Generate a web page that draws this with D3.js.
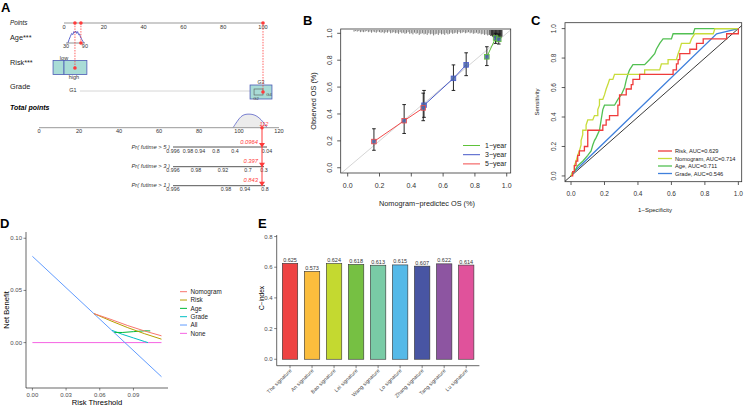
<!DOCTYPE html>
<html><head><meta charset="utf-8">
<script src="https://cdn.jsdelivr.net/npm/d3@7"></script>
<style>body{margin:0;background:#fff}svg{display:block;font-family:"Liberation Sans",Arial,sans-serif}</style>
</head><body><svg width="746" height="407"></svg>
<script>
// ---------------- DATA ----------------
// Panel A (nomogram)
const pointsTicks = [0, 20, 40, 60, 80, 100];
const totalTicks = [0, 20, 40, 60, 80, 100, 120];
const ageTicks = [30, 90];
const ageDensAge = [36, 40, 44, 48, 52, 55, 58, 61, 64, 67, 70, 73, 76, 80, 84, 88];
const ageDensH = [0, 0.3, 0.55, 0.8, 0.7, 0.95, 0.85, 1, 0.8, 0.95, 0.7, 0.75, 0.5, 0.3, 0.12, 0];
const riskLevels = ["low", "high"];
const riskBoxPts = [[-5.5, 0], [0, 11.5]];
const gradeLevels = ["G1", "G3"];
const patientPts = { age: 8.5, risk: 5.5, grade: 100, total: 111.5 };
const totalDensPts = [97, 99, 101, 103, 105, 107, 109, 111, 113, 114];
const totalDensH = [0, 0.45, 0.85, 0.98, 1, 0.97, 0.85, 0.6, 0.25, 0];
const prLabels = ["Pr( futime > 5 )", "Pr( futime > 3 )", "Pr( futime > 1 )"];
const prTickLabels = [["0.996", "0.98", "0.94", "0.8", "0.4", "0.04"],
                      ["0.996", "0.98", "0.92", "0.7", "0.3"],
                      ["0.996", "0.98", "0.94", "0.8"]];
const prTickPts = [[67, 74.5, 80.5, 88.5, 98, 114],
                   [67, 78.5, 92, 104.5, 112.5],
                   [67, 93.5, 103, 113]];
const prValues = ["0.0964", "0.397", "0.843"];

// Panel B (calibration)
const calYears = ["1\u2212year", "3\u2212year", "5\u2212year"];
const calPred = [[0.875, 0.93, 0.95], [0.48, 0.665, 0.745], [0.165, 0.355, 0.475]];
const calObs  = [[0.825, 0.965, 0.955], [0.465, 0.665, 0.765], [0.195, 0.35, 0.445]];
const calLo   = [[0.76, 0.925, 0.92], [0.375, 0.575, 0.685], [0.13, 0.255, 0.35]];
const calHi   = [[0.9, 1.0, 0.995], [0.575, 0.765, 0.855], [0.29, 0.47, 0.555]];
const calTicks = [0, 0.2, 0.4, 0.6, 0.8, 1.0];
const rugB = [[0.04,2],[0.05,1],[0.06,2],[0.07,1],[0.08,3],[0.09,2],[0.10,3],[0.11,2],[0.12,1],[0.13,3],[0.14,2],[0.15,4],[0.16,2],[0.17,3],[0.18,4],[0.19,2],[0.20,3],[0.21,4],[0.22,3],[0.23,5],[0.24,3],[0.25,4],[0.26,2],[0.27,5],[0.28,4],[0.29,3],[0.30,5],[0.31,4],[0.32,6],[0.33,3],[0.34,5],[0.35,4],[0.36,6],[0.37,5],[0.38,3],[0.39,6],[0.40,5],[0.41,7],[0.42,4],[0.43,6],[0.44,5],[0.45,8],[0.46,6],[0.47,5],[0.48,7],[0.49,6],[0.50,8],[0.51,5],[0.52,7],[0.53,6],[0.54,9],[0.55,7],[0.56,6],[0.57,8],[0.58,5],[0.59,7],[0.60,6],[0.61,8],[0.62,5],[0.63,7],[0.64,6],[0.65,4],[0.66,6],[0.67,5],[0.68,4],[0.69,6],[0.70,3],[0.71,5],[0.72,4],[0.73,3],[0.74,5],[0.75,4],[0.76,3],[0.77,5],[0.78,4],[0.79,6],[0.80,5],[0.81,4],[0.82,6],[0.83,5],[0.84,7],[0.85,6],[0.86,8],[0.87,7],[0.88,9],[0.89,8],[0.90,10],[0.905,9],[0.91,11],[0.915,12],[0.92,13],[0.925,14],[0.93,15],[0.935,16],[0.94,17],[0.945,17],[0.95,18],[0.955,16],[0.96,15],[0.965,13],[0.97,11]];

// Panel C (ROC)
const rocNames = ["Risk, AUC=0.629", "Nomogram, AUC=0.714", "Age, AUC=0.711", "Grade, AUC=0.546"];
const rocRisk = [[0,0],[0.01,0],[0.01,0.03],[0.02,0.03],[0.02,0.07],[0.03,0.07],[0.03,0.1],[0.04,0.1],[0.04,0.14],[0.05,0.14],[0.05,0.17],[0.08,0.17],[0.08,0.2],[0.1,0.2],[0.1,0.31],[0.19,0.31],[0.19,0.345],[0.21,0.345],[0.21,0.38],[0.23,0.38],[0.23,0.41],[0.28,0.41],[0.28,0.48],[0.29,0.48],[0.29,0.55],[0.33,0.55],[0.33,0.59],[0.36,0.59],[0.36,0.62],[0.37,0.62],[0.37,0.655],[0.41,0.655],[0.41,0.69],[0.61,0.69],[0.61,0.72],[0.63,0.72],[0.63,0.76],[0.64,0.76],[0.64,0.79],[0.65,0.79],[0.65,0.83],[0.71,0.83],[0.71,0.86],[0.75,0.86],[0.75,0.9],[0.79,0.9],[0.79,0.93],[0.93,0.93],[0.93,0.965],[1,0.965],[1,1]];
const rocNomo = [[0,0],[0.01,0.03],[0.02,0.03],[0.02,0.07],[0.03,0.1],[0.04,0.14],[0.05,0.17],[0.06,0.21],[0.06,0.24],[0.07,0.28],[0.07,0.31],[0.09,0.31],[0.09,0.345],[0.1,0.38],[0.13,0.38],[0.14,0.41],[0.16,0.41],[0.16,0.45],[0.17,0.48],[0.17,0.52],[0.19,0.52],[0.2,0.55],[0.21,0.59],[0.22,0.62],[0.23,0.655],[0.25,0.655],[0.26,0.69],[0.44,0.69],[0.44,0.72],[0.53,0.72],[0.54,0.76],[0.58,0.76],[0.58,0.79],[0.63,0.79],[0.64,0.83],[0.65,0.86],[0.66,0.9],[0.71,0.9],[0.72,0.93],[0.74,0.965],[0.85,0.965],[0.86,1],[1,1]];
const rocAge = [[0,0],[0.01,0.03],[0.02,0.03],[0.04,0.07],[0.07,0.1],[0.1,0.14],[0.12,0.17],[0.13,0.21],[0.14,0.24],[0.15,0.26],[0.17,0.31],[0.18,0.38],[0.19,0.45],[0.2,0.48],[0.26,0.48],[0.28,0.52],[0.3,0.55],[0.32,0.6],[0.33,0.65],[0.34,0.69],[0.35,0.72],[0.37,0.755],[0.44,0.755],[0.47,0.79],[0.5,0.83],[0.51,0.86],[0.53,0.9],[0.55,0.93],[0.6,0.93],[0.61,0.965],[0.73,0.965],[0.74,1],[1,1]];
const rocGrade = [[0,0],[0.02,0.03],[0.87,0.965],[1,1]];
const rocTicks = [0, 0.2, 0.4, 0.6, 0.8, 1.0];

// Panel D (decision curve)
const dcaNames = ["Nomogram", "Risk", "Age", "Grade", "All", "None"];
const dcaX = [[0.0548, 0.07, 0.085, 0.1, 0.115],
              [0.0548, 0.07, 0.085, 0.1, 0.115],
              [0.073, 0.08, 0.09, 0.1, 0.105],
              [0.071, 0.08, 0.09, 0.1, 0.103],
              [0, 0.115],
              [0, 0.115]];
const dcaY = [[0.0278, 0.0222, 0.0163, 0.0111, 0.0065],
              [0.0278, 0.0208, 0.0143, 0.0085, 0.0033],
              [0.0098, 0.0097, 0.0105, 0.0113, 0.0112],
              [0.0117, 0.008, 0.0045, 0.001, 0.0],
              [0.0827, -0.0327],
              [0, 0]];
const dcaXTicks = [0, 0.03, 0.06, 0.09];
const dcaYTicks = [0, 0.05, 0.10];

// Panel E (C-index bars)
const sigNames = ["The signature", "An signature", "Bao signature", "Lei signature", "Wang signature", "Lo signature", "Zhang signature", "Tang signature", "Lu signature"];
const cindex = [0.625, 0.573, 0.624, 0.618, 0.613, 0.615, 0.607, 0.622, 0.614];
const cTicks = [0, 0.2, 0.4, 0.6, 0.8];

// ---------------- DRAWING ----------------
const svg = d3.select("svg");
function txt(g, x, y, s, o = {}) {
  const t = g.append("text").attr("x", x).attr("y", y).text(s)
    .attr("font-size", o.size || 7).attr("fill", o.fill || "#000")
    .attr("text-anchor", o.anchor || "start");
  if (o.italic) t.attr("font-style", "italic");
  if (o.bold) t.attr("font-weight", "bold");
  if (o.rotate !== undefined) t.attr("transform", `rotate(${o.rotate},${x},${y})`);
  return t;
}
function ln(g, x1, y1, x2, y2, c, w, dash) {
  const l = g.append("line").attr("x1", x1).attr("y1", y1).attr("x2", x2).attr("y2", y2)
    .attr("stroke", c).attr("stroke-width", w || 1);
  if (dash) l.attr("stroke-dasharray", dash);
  return l;
}
const RED = "#ff3b3b";

// ===== Panel A =====
const A = svg.append("g");
txt(A, 1, 12, "A", { size: 13, bold: true });
const xP = d3.scaleLinear().domain([0, 100]).range([64, 263]);
const xT = d3.scaleLinear().domain([0, 120]).range([39, 279]);
txt(A, 10, 24.5, "Points", { size: 6.3, italic: true, fill: "#222" });
txt(A, 10, 40, "Age***", { size: 7.3, fill: "#222" });
txt(A, 10, 65, "Risk***", { size: 7.3, fill: "#222" });
txt(A, 10, 89, "Grade", { size: 7.3, fill: "#222" });
txt(A, 10, 110, "Total points", { size: 7, bold: true, italic: true });

ln(A, xP(0), 23, xP(100), 23, "#999", 1);
pointsTicks.forEach(v => txt(A, xP(v), 28.5, v, { size: 5.6, anchor: "middle", fill: "#333" }));

// Age
const ageX = d3.scaleLinear().domain([30, 90]).range([xP(1), xP(10.5)]);
const ageH = d3.scaleLinear().domain([0, 1]).range([43, 31]);
A.append("path").datum(ageDensAge.map((a, i) => [a, ageDensH[i]]))
  .attr("d", d3.line().x(d => ageX(d[0])).y(d => ageH(d[1])))
  .attr("fill", "none").attr("stroke", "#4a55c8").attr("stroke-width", 0.9);
ln(A, ageX(30), 43, ageX(90), 43, "#777", 0.8);
ageTicks.forEach(v => txt(A, ageX(v), 47.5, v, { size: 5.5, anchor: "middle", fill: "#333" }));

// Risk
riskBoxPts.forEach(b => A.append("rect").attr("x", xP(b[0])).attr("y", 60.5)
  .attr("width", xP(b[1]) - xP(b[0])).attr("height", 14)
  .attr("fill", "#a9dcd6").attr("stroke", "#4b5bb5").attr("stroke-width", 0.8));
txt(A, xP(0), 59.5, riskLevels[0], { size: 5.5, anchor: "middle", fill: "#333" });
txt(A, xP(5), 79, riskLevels[1], { size: 5.5, anchor: "middle", fill: "#333" });

// Grade
ln(A, xP(8), 91, xP(93.5), 91, "#ccc", 0.8);
txt(A, xP(4.5), 91.5, gradeLevels[0], { size: 5.5, anchor: "middle", fill: "#333" });
A.append("rect").attr("x", xP(93.5)).attr("y", 85).attr("width", xP(104.5) - xP(93.5)).attr("height", 14)
  .attr("fill", "#a9dcd6").attr("stroke", "#4b5bb5").attr("stroke-width", 0.8);
txt(A, xP(99), 83.5, gradeLevels[1], { size: 5.2, anchor: "middle", fill: "#333" });
A.append("rect").attr("x", xP(95.5)).attr("y", 89).attr("width", xP(100) - xP(95.5)).attr("height", 6)
  .attr("fill", "none").attr("stroke", "#555").attr("stroke-width", 0.6);
txt(A, xP(103), 95.5, "G4", { size: 4.2, anchor: "middle", fill: "#444" });
txt(A, xP(96.5), 99.5, "G2", { size: 4.2, anchor: "middle", fill: "#444" });

// Total points
const tdH = d3.scaleLinear().domain([0, 1]).range([127.7, 114]);
A.append("path").datum(totalDensPts.map((p, i) => [p, totalDensH[i]]))
  .attr("d", d3.line().curve(d3.curveBasis).x(d => xT(d[0])).y(d => tdH(d[1])))
  .attr("fill", "#ececec").attr("stroke", "#5a63c8").attr("stroke-width", 0.8);
ln(A, xT(0), 127.7, xT(120), 127.7, "#999", 1);
totalTicks.forEach(v => txt(A, xT(v), 133, v, { size: 5.6, anchor: "middle", fill: "#333" }));

// Pr rows
const prY = [147, 166.7, 185.7];
prLabels.forEach((lab, r) => {
  const y = prY[r];
  txt(A, xT(prTickPts[r][0]) - 3, y + 1.5, lab, { size: 5.8, italic: true, anchor: "end", fill: "#333" });
  ln(A, xT(prTickPts[r][0]), y, xT(prTickPts[r][prTickPts[r].length - 1]), y, "#555", 1);
  prTickPts[r].forEach((p, i) => txt(A, xT(p), y + 5.5, prTickLabels[r][i], { size: 5.3, anchor: "middle", fill: "#333" }));
  txt(A, xT(patientPts.total) - 4, y - 3.5, prValues[r], { size: 5.8, italic: true, anchor: "end", fill: RED });
  A.append("path").attr("d", `M${xT(patientPts.total) - 3},${y - 4}L${xT(patientPts.total) + 3},${y - 4}L${xT(patientPts.total)},${y + 0.5}Z`).attr("fill", RED);
});
// patient path
const xa = xP(patientPts.age), xr = xP(patientPts.risk), xg = xP(patientPts.grade), xt = xT(patientPts.total);
ln(A, xr, 23, xr, 68, RED, 0.8, "1.5,1.2");
ln(A, xa, 23, xa, 43, RED, 0.8, "1.5,1.2");
ln(A, xg, 23, xg, 92, RED, 0.8, "1.5,1.2");
ln(A, xt, 127.7, xt, prY[2], RED, 1);
[[xr, 23], [xa, 23], [xg, 23], [xa, 43], [xr, 68], [xg, 92], [xt, 127.7]].forEach(p =>
  A.append("circle").attr("cx", p[0]).attr("cy", p[1]).attr("r", 1.8).attr("fill", RED));
txt(A, xt + 2, 126, "112", { size: 5.6, italic: true, anchor: "middle", fill: RED });

// ===== Panel B =====
const B = svg.append("g");
txt(B, 303, 25, "B", { size: 13, bold: true });
const xB = d3.scaleLinear().domain([-0.044, 1.025]).range([340.7, 510.7]);
const yB = d3.scaleLinear().domain([-0.039, 1.032]).range([173, 29]);
B.append("clipPath").attr("id", "clipB").append("rect").attr("x", 340.7).attr("y", 29).attr("width", 170).attr("height", 144);
B.append("line").attr("clip-path", "url(#clipB)")
  .attr("x1", xB(-0.05)).attr("y1", yB(-0.05)).attr("x2", xB(1.05)).attr("y2", yB(1.05))
  .attr("stroke", "#d0d0d0").attr("stroke-width", 0.9);
// rug
rugB.forEach(d => ln(B, xB(d[0]), 30, xB(d[0]), 30.5 + d[1] * 0.55, d[0] > 0.885 ? "#1a1a1a" : "#6f6f6f", 0.9));
const calColors = ["#5fc23a", "#4658c8", "#f24a4a"];
calYears.forEach((yr, k) => {
  const pts = calPred[k].map((p, i) => [p, calObs[k][i]]);
  B.append("path").datum(pts).attr("d", d3.line().x(d => xB(d[0])).y(d => yB(d[1])))
    .attr("fill", "none").attr("stroke", calColors[k]).attr("stroke-width", 1);
});
calYears.forEach((yr, k) => {
  calPred[k].forEach((p, i) => {
    const x = xB(p);
    ln(B, x, yB(calLo[k][i]), x, yB(calHi[k][i]), "#111", 0.9);
    ln(B, x - 1.8, yB(calLo[k][i]), x + 1.8, yB(calLo[k][i]), "#111", 0.9);
    ln(B, x - 1.8, yB(calHi[k][i]), x + 1.8, yB(calHi[k][i]), "#111", 0.9);
  });
});
calYears.forEach((yr, k) => {
  calPred[k].forEach((p, i) => {
    B.append("rect").attr("x", xB(p) - 2.3).attr("y", yB(calObs[k][i]) - 2.3).attr("width", 4.6).attr("height", 4.6)
      .attr("fill", "#4c68a8").attr("fill-opacity", 0.85).attr("stroke", calColors[k]).attr("stroke-width", 0.8);
  });
});
B.append("rect").attr("x", 340.7).attr("y", 29).attr("width", 170).attr("height", 144)
  .attr("fill", "none").attr("stroke", "#333").attr("stroke-width", 0.8);
calTicks.forEach(v => {
  ln(B, xB(v), 173, xB(v), 176.5, "#333", 0.8);
  txt(B, xB(v), 187.5, v.toFixed(1), { size: 7, anchor: "middle", fill: "#333" });
  ln(B, 340.7, yB(v), 337.2, yB(v), "#333", 0.8);
  txt(B, 332.5, yB(v), v.toFixed(1), { size: 7, anchor: "middle", fill: "#333", rotate: -90 });
});
txt(B, 427, 206, "Nomogram\u2212predictec OS (%)", { size: 7.3, anchor: "middle", fill: "#222" });
txt(B, 316, 101, "Observed OS (%)", { size: 7.3, anchor: "middle", fill: "#222", rotate: -90 });
calYears.forEach((yr, k) => {
  const y = 145.5 + k * 9.2;
  ln(B, 463, y, 480, y, calColors[k], 1);
  txt(B, 485, y + 2.5, yr, { size: 7, fill: "#222" });
});

// ===== Panel C =====
const C = svg.append("g");
txt(C, 531, 25, "C", { size: 13, bold: true });
const xC = d3.scaleLinear().domain([-0.036, 1.02]).range([565, 741.7]);
const yC = d3.scaleLinear().domain([-0.039, 1.04]).range([181.7, 22.7]);
ln(C, xC(-0.036), yC(-0.036), xC(1.02), yC(1.02), "#222", 0.9);
const rocColors = ["#ef3b3b", "#c8dc3a", "#52c052", "#3f80dc"];
const rocData = [rocRisk, rocNomo, rocAge, rocGrade];
[3, 2, 1, 0].forEach(k => {
  C.append("path").datum(rocData[k]).attr("d", d3.line().x(d => xC(d[0])).y(d => yC(d[1])))
    .attr("fill", "none").attr("stroke", rocColors[k]).attr("stroke-width", 1.3);
});
C.append("rect").attr("x", 565).attr("y", 22.7).attr("width", 176.7).attr("height", 159)
  .attr("fill", "none").attr("stroke", "#333").attr("stroke-width", 0.8);
rocTicks.forEach(v => {
  ln(C, xC(v), 181.7, xC(v), 185, "#333", 0.8);
  txt(C, xC(v), 195.5, v.toFixed(1), { size: 6.5, anchor: "middle", fill: "#333" });
  ln(C, 565, yC(v), 561.7, yC(v), "#333", 0.8);
  txt(C, 556, yC(v), v.toFixed(1), { size: 6.5, anchor: "middle", fill: "#333", rotate: -90 });
});
txt(C, 655, 211.5, "1\u2212Specificity", { size: 6, anchor: "middle", fill: "#222" });
txt(C, 539, 102, "Sensitivity", { size: 6, anchor: "middle", fill: "#222", rotate: -90 });
rocNames.forEach((nm, k) => {
  const y = 151 + k * 7.5;
  ln(C, 658, y, 672, y, rocColors[k], 1.3);
  txt(C, 675, y + 2, nm, { size: 5.7, fill: "#222" });
});

// ===== Panel D =====
const D = svg.append("g");
txt(D, 0, 228, "D", { size: 13, bold: true });
const xD = d3.scaleLinear().domain([-0.0057, 0.1208]).range([26, 168]);
const yD = d3.scaleLinear().domain([-0.0435, 0.106]).range([388, 232]);
const dcaColors = ["#F8766D", "#B79F00", "#00BA38", "#00BFC4", "#619CFF", "#F564E3"];
[5, 4, 3, 2, 1, 0].forEach(k => {
  D.append("path").datum(dcaX[k].map((x, i) => [x, dcaY[k][i]]))
    .attr("d", d3.line().x(d => xD(d[0])).y(d => yD(d[1])))
    .attr("fill", "none").attr("stroke", dcaColors[k]).attr("stroke-width", 1);
});
ln(D, 26, 232, 26, 388, "#000", 0.6);
ln(D, 26, 388, 168, 388, "#000", 0.6);
dcaYTicks.forEach(v => {
  ln(D, 26, yD(v), 23.5, yD(v), "#333", 0.6);
  txt(D, 22, yD(v) + 2, v.toFixed(2), { size: 6, anchor: "end", fill: "#4d4d4d" });
});
dcaXTicks.forEach(v => {
  ln(D, xD(v), 388, xD(v), 390.5, "#333", 0.6);
  txt(D, xD(v), 396.5, v.toFixed(2), { size: 6, anchor: "middle", fill: "#4d4d4d" });
});
txt(D, 97, 405, "Risk Threshold", { size: 7.6, anchor: "middle" });
txt(D, 8.5, 310, "Net Benefit", { size: 7.6, anchor: "middle", rotate: -90 });
dcaNames.forEach((nm, k) => {
  const y = 291.7 + k * 8.33;
  ln(D, 180, y, 187, y, dcaColors[k], 1);
  txt(D, 190.5, y + 2.2, nm, { size: 6.3, fill: "#222" });
});

// ===== Panel E =====
const E = svg.append("g");
txt(E, 258, 228, "E", { size: 13, bold: true });
const xE = d3.scaleBand().domain(sigNames).range([276.8, 479.4]).paddingInner(0.3).paddingOuter(0.25);
const yE = d3.scaleLinear().domain([-0.042, 0.81]).range([365.7, 235]);
const barColors = ["#ee4343", "#fbbd3d", "#c4d930", "#76c043", "#79cba6", "#55b9e8", "#4855a3", "#8d55a1", "#e0529b"];
sigNames.forEach((nm, i) => {
  E.append("rect").attr("x", xE(nm)).attr("y", yE(cindex[i])).attr("width", xE.bandwidth())
    .attr("height", yE(0) - yE(cindex[i])).attr("fill", barColors[i]).attr("stroke", "#333").attr("stroke-width", 0.6);
  txt(E, xE(nm) + xE.bandwidth() / 2, yE(cindex[i]) - 1.5, cindex[i].toFixed(3), { size: 5.5, anchor: "middle", fill: "#333" });
  const cx = xE(nm) + xE.bandwidth() / 2;
  ln(E, cx, 365.7, cx, 368.2, "#333", 0.6);
  txt(E, cx + 2, 371, nm, { size: 5.3, anchor: "end", fill: "#4d4d4d", rotate: -45 });
});
ln(E, 276.7, 235, 276.7, 365.7, "#000", 0.6);
ln(E, 276.7, 365.7, 479.4, 365.7, "#000", 0.6);
cTicks.forEach(v => {
  ln(E, 276.7, yE(v), 274.2, yE(v), "#333", 0.6);
  txt(E, 272.5, yE(v) + 2, v.toFixed(1), { size: 6, anchor: "end", fill: "#4d4d4d" });
});
txt(E, 264, 298, "C\u2212index", { size: 6.5, anchor: "middle", rotate: -90 });
</script>
</body></html>
